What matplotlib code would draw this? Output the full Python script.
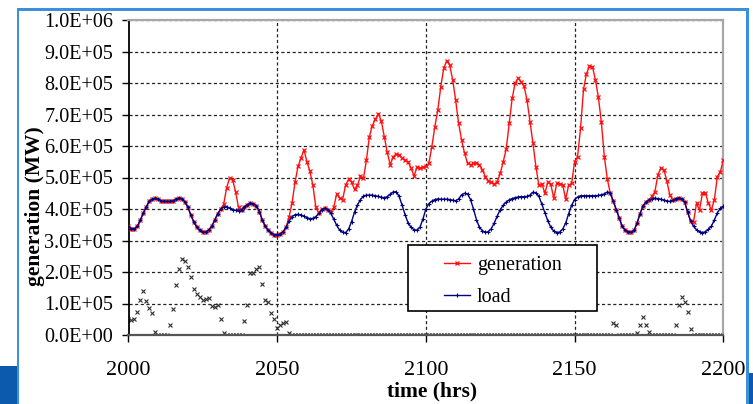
import numpy as np
import matplotlib
matplotlib.use("Agg")
import matplotlib.pyplot as plt
from matplotlib.patches import Rectangle
from matplotlib.ticker import FuncFormatter

plt.rcParams['font.family'] = ['Liberation Serif', 'DejaVu Serif']

# ---------------- data (units of 1e5 MW) ----------------
hours = list(range(2000, 2201))

load = [
    3.45, 3.38, 3.37, 3.45, 3.65, 3.88, 4.07, 4.25, 4.31, 4.34,
    4.31, 4.26, 4.24, 4.24, 4.24, 4.26, 4.31, 4.35, 4.33, 4.22,
    4.05, 3.80, 3.58, 3.42, 3.32, 3.26, 3.27, 3.34, 3.45, 3.65,
    3.85, 4.00, 4.07, 4.07, 4.03, 3.98, 3.96, 3.94, 3.98, 4.06,
    4.14, 4.18, 4.17, 4.10, 3.92, 3.65, 3.45, 3.32, 3.24, 3.18,
    3.17, 3.21, 3.28, 3.42, 3.62, 3.76, 3.82, 3.83, 3.81, 3.77,
    3.73, 3.69, 3.70, 3.76, 3.86, 3.98, 4.02, 3.98, 3.87, 3.68,
    3.48, 3.33, 3.26, 3.25, 3.36, 3.60, 3.90, 4.13, 4.30, 4.41,
    4.44, 4.44, 4.44, 4.42, 4.40, 4.37, 4.36, 4.39, 4.47, 4.54,
    4.55, 4.40, 4.12, 3.82, 3.56, 3.42, 3.34, 3.33, 3.42, 3.68,
    4.00, 4.17, 4.25, 4.30, 4.32, 4.31, 4.31, 4.31, 4.30, 4.28,
    4.26, 4.32, 4.45, 4.50, 4.48, 4.30, 4.00, 3.66, 3.42, 3.31,
    3.26, 3.28, 3.38, 3.56, 3.78, 3.98, 4.12, 4.22, 4.29, 4.33,
    4.36, 4.38, 4.39, 4.39, 4.40, 4.44, 4.53, 4.52, 4.40, 4.15,
    3.88, 3.62, 3.42, 3.30, 3.25, 3.27, 3.36, 3.55, 3.85, 4.12,
    4.30, 4.38, 4.42, 4.42, 4.42, 4.42, 4.42, 4.42, 4.43, 4.45,
    4.48, 4.54, 4.50, 4.25, 3.98, 3.70, 3.45, 3.33, 3.28, 3.26,
    3.32, 3.55, 3.85, 4.10, 4.22, 4.29, 4.32, 4.34, 4.33, 4.31,
    4.28, 4.26, 4.24, 4.28, 4.33, 4.35, 4.32, 4.22, 3.90, 3.62,
    3.45, 3.34, 3.28, 3.25, 3.28, 3.35, 3.46, 3.65, 3.88, 4.02,
    4.08,
]

generation = [
    3.45, 3.38, 3.37, 3.45, 3.65, 3.88, 4.07, 4.25, 4.31, 4.34,
    4.31, 4.26, 4.24, 4.24, 4.24, 4.26, 4.31, 4.35, 4.33, 4.22,
    4.05, 3.80, 3.58, 3.42, 3.32, 3.26, 3.27, 3.34, 3.45, 3.65,
    3.85, 4.00, 4.15, 4.68, 4.98, 4.93, 4.55, 4.05, 3.98, 4.06,
    4.14, 4.18, 4.17, 4.10, 3.92, 3.65, 3.45, 3.32, 3.24, 3.18,
    3.17, 3.21, 3.28, 3.42, 3.75, 4.20, 4.85, 5.35, 5.62, 5.88,
    5.50, 5.20, 4.75, 4.05, 3.88, 4.00, 4.02, 3.98, 3.92, 4.05,
    4.48, 4.34, 4.30, 4.76, 4.94, 4.85, 4.62, 4.75, 5.05, 4.97,
    5.55, 6.30, 6.65, 6.85, 7.02, 6.80, 6.30, 5.80, 5.40, 5.66,
    5.74, 5.72, 5.62, 5.55, 5.50, 5.30, 5.05, 5.32, 5.30, 5.32,
    5.35, 5.45, 5.98, 6.61, 7.14, 7.88, 8.47, 8.71, 8.57, 8.10,
    7.46, 6.72, 6.19, 5.77, 5.45, 5.40, 5.45, 5.47, 5.40, 5.24,
    5.03, 4.90, 4.85, 4.79, 4.87, 5.13, 5.50, 5.90, 6.72, 7.51,
    7.99, 8.15, 8.04, 7.90, 7.46, 6.77, 6.09, 5.34, 4.75, 4.80,
    4.50, 4.85, 4.78, 4.34, 4.81, 4.80, 4.76, 4.31, 4.76, 4.81,
    5.50, 5.66, 6.56, 7.80, 8.30, 8.53, 8.52, 8.10, 7.55, 6.75,
    5.66, 4.95, 4.50, 4.25, 3.98, 3.70, 3.45, 3.33, 3.28, 3.26,
    3.32, 3.55, 3.85, 4.10, 4.22, 4.29, 4.40, 4.55, 5.08, 5.30,
    5.25, 4.90, 4.45, 4.28, 4.33, 4.35, 4.32, 4.22, 3.90, 3.62,
    3.60, 4.18, 3.97, 4.50, 4.50, 4.18, 3.97, 4.29, 5.03, 5.18,
    5.55,
]

unserved = (
    [0.50, 0.48, 0.50, 0.72, 1.12, 1.40, 1.09, 0.85, 0.69, 0.11,
     0.0, 0.0, 0.0, 0.0, 0.32, 0.83, 1.60, 2.10, 2.40, 2.35,
     2.17, 1.83, 1.46, 1.29, 1.22, 1.12, 1.15, 1.16, 0.92, 0.88,
     0.94, 0.52, 0.05, 0.0, 0.0, 0.0, 0.0, 0.0, 0.0, 0.44,
     0.95, 1.97, 1.98, 2.08, 2.17, 1.62, 1.11, 1.06, 0.69, 0.50,
     0.21, 0.32, 0.39, 0.41, 0.07, 0.0, 0.0, 0.0, 0.0, 0.0]
    + [0.0] * 100
    + [0.0, 0.0, 0.0, 0.37, 0.33, 0.0, 0.0, 0.0, 0.0, 0.0,
       0.0, 0.05, 0.31, 0.58, 0.31, 0.10, 0.0, 0.0, 0.0, 0.0,
       0.0, 0.0, 0.0, 0.0, 0.32, 0.95, 1.22, 1.04, 0.72, 0.18,
       0.0, 0.0, 0.0, 0.0, 0.0, 0.0, 0.0, 0.0, 0.0, 0.0, 0.0]
)

SCALE = 1e5
x_ticks = [2000, 2050, 2100, 2150, 2200]
y_ticks = [i * 1e5 for i in range(11)]

# ---------------- figure ----------------
W, H = 753, 404
fig = plt.figure(figsize=(W / 100, H / 100), dpi=100)
fig.patch.set_facecolor('white')


def px_rect(x0, y0, x1, y1, color):
    fig.patches.append(Rectangle((x0 / W, 1 - y1 / H), (x1 - x0) / W, (y1 - y0) / H,
                                 transform=fig.transFigure, facecolor=color,
                                 edgecolor='none', zorder=0))


# slide frame decorations
px_rect(16.7, 8, 19.3, 404, '#3a90dc')
px_rect(16.7, 8, 749, 10.5, '#3a90dc')
px_rect(746, 8, 749, 404, '#3a90dc')
px_rect(0, 366, 16.7, 404, '#0b5aad')
px_rect(749, 373, 753, 404, '#0b5aad')

ax = fig.add_axes([128.5 / W, 1 - 335 / H, (723.3 - 128.5) / W, (335 - 20) / H])

x = np.array(hours)
gen = np.array(generation) * SCALE
ld = np.array(load) * SCALE
un = np.array(unserved) * SCALE

ax.plot(x, un, ls='none', marker='x', ms=3, mew=0.8, color='#303030', zorder=2)
l_gen, = ax.plot(x, gen, color='#ff1010', lw=1.0, marker='x', ms=3.2, mew=0.9,
                 label='generation', zorder=3)
l_load, = ax.plot(x, ld, color='#000080', lw=1.0, marker='+', ms=3, mew=0.8,
                  label='load', zorder=4)

ax.set_xlim(2000, 2200)
ax.set_ylim(0, 1e6)
ax.set_xticks(x_ticks)
ax.set_yticks(y_ticks)
ax.yaxis.set_major_formatter(FuncFormatter(lambda v, p: f"{v:.1E}"))

ax.tick_params(axis='y', direction='out', length=5, width=1, labelsize=14.5, pad=6,
               colors='black')
ax.tick_params(axis='x', direction='out', length=5, width=1, labelsize=16, pad=14,
               colors='black')

ax.grid(True, ls=(0, (2.5, 2)), color='#222222', lw=0.9, zorder=1)
ax.set_axisbelow(True)

for s in ['top', 'right']:
    ax.spines[s].set_color('#a8a8a8')
    ax.spines[s].set_linewidth(1.6)
ax.spines['left'].set_color('black')
ax.spines['left'].set_linewidth(1.3)
ax.spines['bottom'].set_color('#555555')
ax.spines['bottom'].set_linewidth(1.6)

# axis titles
fig.text(35 / W, 1 - 206 / H, 'generation (MW)', rotation=90, ha='center', va='center',
         fontsize=15.5, fontweight='bold')
fig.text(431.7 / W, 1 - 391 / H, 'time (hrs)', ha='center', va='center',
         fontsize=15.5, fontweight='bold')

# legend with a square black frame
lx0, ly0, lx1, ly1 = 408.3, 245, 596.7, 310.7
frame = Rectangle((lx0 / W, 1 - ly1 / H), (lx1 - lx0) / W, (ly1 - ly0) / H,
                  transform=fig.transFigure, facecolor='white',
                  edgecolor='black', lw=1.2, zorder=5, clip_on=False)
ax.add_patch(frame)
leg = ax.legend(handles=[l_gen, l_load], loc='center',
                bbox_to_anchor=((lx0 + lx1) / 2 / W, 1 - (ly0 + ly1) / 2 / H - 0.009),
                bbox_transform=fig.transFigure, frameon=False, fontsize=14.5,
                handlelength=1.3, handletextpad=0.35, labelspacing=0.65,
                borderpad=0)
leg.set_zorder(6)

fig.savefig('out.png', dpi=100)
